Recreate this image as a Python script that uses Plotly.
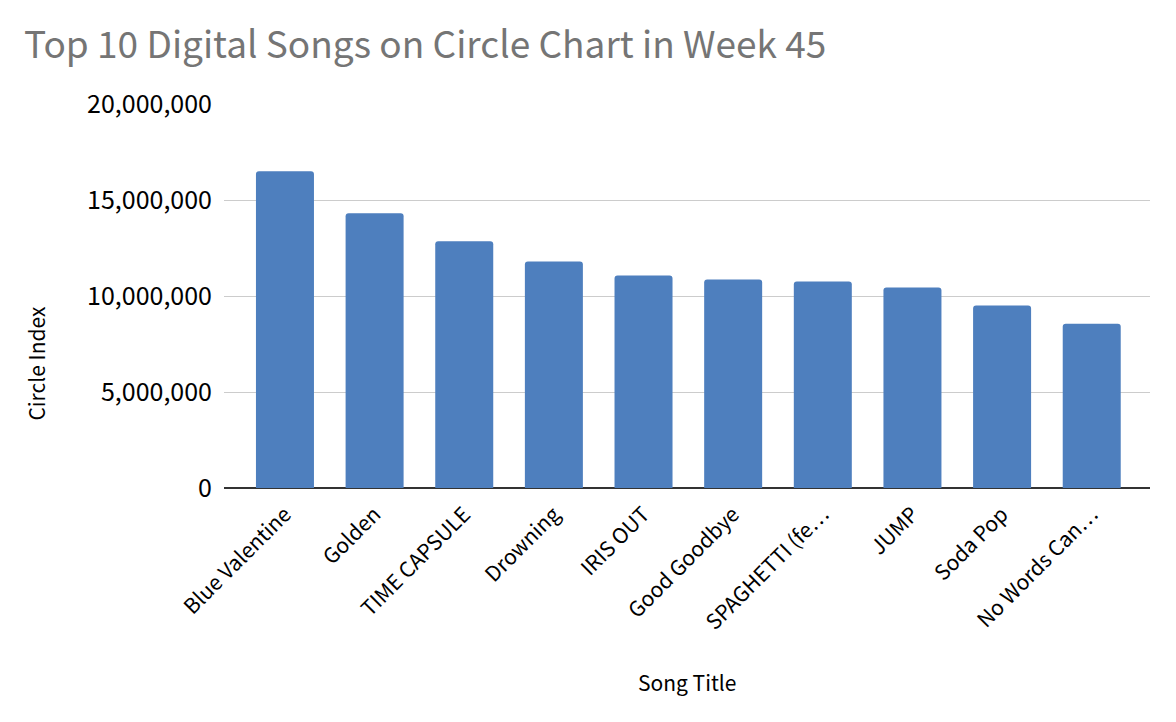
import plotly.graph_objects as go

songs = ["Blue Valentine", "Golden", "TIME CAPSULE", "Drowning", "IRIS OUT",
         "Good Goodbye", "SPAGHETTI (fe…", "JUMP", "Soda Pop", "No Words Can…"]
circle_index = [16500000, 14310000, 12850000, 11800000, 11070000,
                10860000, 10760000, 10440000, 9500000, 8560000]
y_ticks = [0, 5000000, 10000000, 15000000, 20000000]
y_tick_labels = ["0", "5,000,000", "10,000,000", "15,000,000", "20,000,000"]

FONT = "Noto Sans CJK KR"

fig = go.Figure(go.Bar(
    x=list(range(len(songs))), y=circle_index,
    marker=dict(color="#4e7fbe", line=dict(width=0)),
))

fig.update_layout(
    width=1168, height=714,
    paper_bgcolor="white", plot_bgcolor="white",
    margin=dict(l=216, r=26, t=96, b=234),
    bargap=0.353,
    barcornerradius=3,
    showlegend=False,
    font=dict(family=FONT, color="#000000", size=21),
    title=dict(text="Top 10 Digital Songs on Circle Chart in Week 45",
               x=0.0137, xanchor="left", y=0.948, yanchor="middle",
               font=dict(family=FONT, size=37, color="#757575")),
    annotations=[
        dict(text="Song Title", xref="paper", yref="paper",
             x=0.5005, y=-0.505, xanchor="center", yanchor="middle",
             showarrow=False, font=dict(family=FONT, size=21, color="#000000")),
        dict(text="Circle Index", xref="paper", yref="paper",
             x=-0.203, y=0.324, xanchor="center", yanchor="middle",
             textangle=-90, showarrow=False,
             font=dict(family=FONT, size=21, color="#000000")),
    ],
)
fig.update_xaxes(
    automargin=False,
    range=[-0.68, 9.65],
    tickmode="array", tickvals=list(range(len(songs))), ticktext=songs,
    tickangle=-45, showgrid=False, zeroline=False,
    showline=False, ticks="", tickfont=dict(size=21), ticklabelstandoff=9,
)
fig.update_yaxes(
    automargin=False,
    range=[0, 20000000],
    tickmode="array", tickvals=y_ticks, ticktext=y_tick_labels,
    showgrid=True, gridcolor="#cccccc", gridwidth=1,
    zeroline=True, zerolinecolor="#333333", zerolinewidth=2,
    showline=False, ticks="", ticklabelstandoff=11, tickfont=dict(size=25),
)

fig.write_html("out.html")
